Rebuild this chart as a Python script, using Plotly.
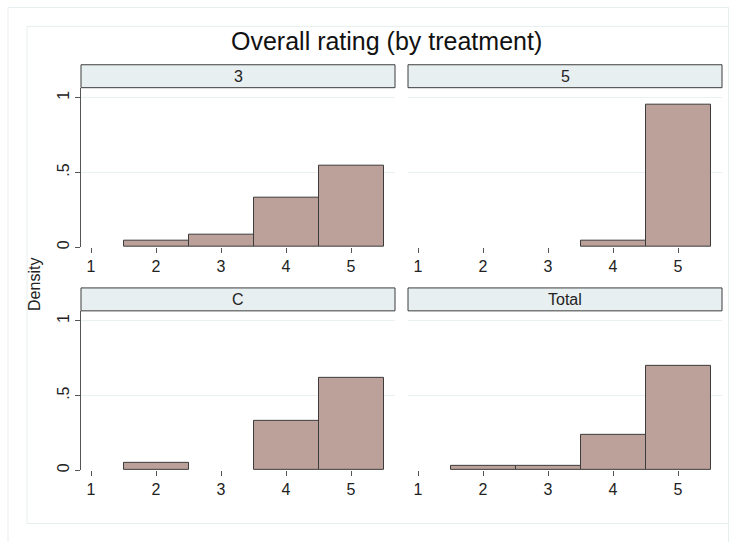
import plotly.graph_objects as go

W, H = 735, 542

# ---- data (density of overall rating, by treatment) ----
ratings = [1, 2, 3, 4, 5]
panel_names = ["3", "5", "C", "Total"]
density_3 = [0.0, 0.0417, 0.0833, 0.3333, 0.5417]
density_5 = [0.0, 0.0, 0.0, 0.0455, 0.9545]
density_C = [0.0, 0.0476, 0.0, 0.3333, 0.6190]
density_total = [0.0, 0.0299, 0.0299, 0.2388, 0.7015]
ytick_vals = [0, 0.5, 1]
ytick_text = ["0", ".5", "1"]
title_text = "Overall rating (by treatment)"
ytitle_text = "Density"

def px(x):
    return x / W

def py(y):
    return 1 - y / H

FONT = "Liberation Sans, Arial, sans-serif"
BAR = "#bca09a"
EDGE = "#3c3c3c"
GRID = "#eaf1f3"
STRIP = "#e8eff1"
FRAME = "#e6eef0"

# panel pixel boxes: (x0, x1, y_top, y_bottom)
panels = [
    (81, 395, 88, 248),
    (408, 722, 88, 248),
    (81, 395, 312, 472),
    (408, 722, 312, 472),
]
series = [density_3, density_5, density_C, density_total]

fig = go.Figure()
shapes = []
annotations = []

for i, ((x0, x1, yt, yb), vals, name) in enumerate(zip(panels, series, panel_names)):
    n = i + 1
    xa = "x" if n == 1 else f"x{n}"
    ya = "y" if n == 1 else f"y{n}"
    xs = [r for r, v in zip(ratings, vals) if v > 0]
    ys = [v for v in vals if v > 0]
    fig.add_trace(go.Bar(
        x=xs, y=ys, width=1, xaxis=xa, yaxis=ya,
        marker=dict(color=BAR, line=dict(color=EDGE, width=1)),
        showlegend=False, hoverinfo="x+y",
    ))
    left = (n in (1, 3))
    fig.layout[f"xaxis{'' if n == 1 else n}"] = dict(
        domain=[px(x0), px(x1)], anchor=ya, range=[0.846, 5.677],
        tickvals=ratings, ticks="outside", ticklen=5, tickcolor="#555",
        tickfont=dict(family=FONT, size=16, color="#222"),
        showline=False, showgrid=False, zeroline=False, fixedrange=True,
    )
    fig.layout[f"yaxis{'' if n == 1 else n}"] = dict(
        domain=[py(yb), py(yt)], anchor=xa, range=[0, 1.067],
        tickvals=ytick_vals, ticktext=ytick_text,
        ticks="outside" if left else "", ticklen=5, tickcolor="#555",
        showticklabels=left, tickangle=-90,
        tickfont=dict(family=FONT, size=16, color="#222"),
        showline=left, linecolor="#555", linewidth=1,
        showgrid=True, gridcolor=GRID, gridwidth=1, zeroline=False, fixedrange=True,
    )
    # strip
    st, sb = yt - 23, yt
    shapes.append(dict(type="rect", xref="paper", yref="paper",
                       x0=px(x0), x1=px(x1), y0=py(sb), y1=py(st),
                       fillcolor=STRIP, line=dict(color=EDGE, width=1), layer="above"))
    annotations.append(dict(text=name, xref="paper", yref="paper",
                            x=px((x0 + x1) / 2), y=py((st + sb) / 2),
                            xanchor="center", yanchor="middle", showarrow=False,
                            font=dict(family=FONT, size=16, color="#222")))

# frames
shapes.insert(0, dict(type="rect", xref="paper", yref="paper",
                      x0=px(8), x1=px(728.5), y0=py(545), y1=py(7.5),
                      line=dict(color=FRAME, width=1), fillcolor="rgba(0,0,0,0)", layer="below"))
shapes.insert(1, dict(type="rect", xref="paper", yref="paper",
                      x0=px(27), x1=px(728.5), y0=py(525.5), y1=py(26.5),
                      line=dict(color=FRAME, width=1), fillcolor="rgba(0,0,0,0)", layer="below"))

annotations.append(dict(text=title_text, xref="paper", yref="paper",
                        x=px(386), y=py(41), xanchor="center", yanchor="middle",
                        showarrow=False, font=dict(family=FONT, size=25, color="#111")))
annotations.append(dict(text=ytitle_text, xref="paper", yref="paper",
                        x=px(35), y=py(286), xanchor="center", yanchor="middle",
                        textangle=-90, showarrow=False,
                        font=dict(family=FONT, size=16, color="#222")))

fig.update_layout(
    width=W, height=H, margin=dict(l=0, r=0, t=0, b=0),
    paper_bgcolor="white", plot_bgcolor="white",
    bargap=0, shapes=shapes, annotations=annotations,
)

fig.write_html("out.html", config={"displayModeBar": False},
               post_script="document.body.style.margin='0';document.body.style.overflow='hidden';")
